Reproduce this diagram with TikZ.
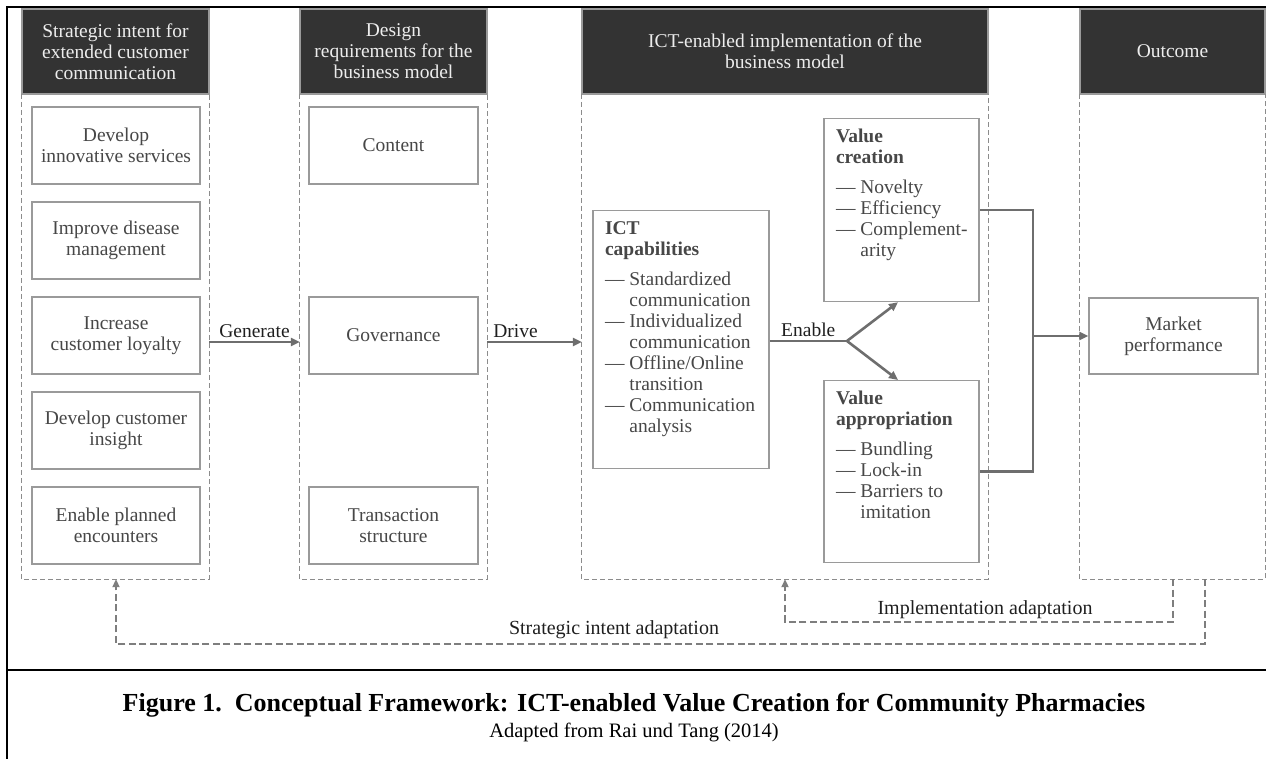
\documentclass[tikz,border=0pt]{standalone}
\usepackage{fontspec}
\setmainfont{Liberation Serif}
\usetikzlibrary{positioning,arrows.meta}
\definecolor{headfill}{HTML}{333333}
\definecolor{boxline}{HTML}{9A9A9A}
\definecolor{boxtext}{HTML}{474747}
\definecolor{flowgray}{HTML}{6E6E6E}
\definecolor{dashgray}{HTML}{8C8C8C}
\newcommand{\boxfont}{\fontsize{19.5}{21}\selectfont}
\tikzset{
  >={Triangle[length=9pt,width=8pt]},
  head/.style={draw=boxline, line width=1.2pt, fill=headfill, text=white!93!black,
    align=center, minimum height=85pt, font=\boxfont},
  column/.style={minimum height=485pt},
  item/.style={draw=boxline, line width=1.2pt, fill=white, text=boxtext,
    align=center, minimum height=77pt, font=\boxfont},
  capbox/.style={draw=boxline, line width=1.2pt, text=boxtext, anchor=north,
    inner xsep=10pt, inner ysep=0pt, font=\boxfont},
  flow/.style={draw=flowgray, line width=2.6pt, ->},
  fwire/.style={draw=flowgray, line width=2.6pt},
  colside/.style={draw=dashgray, line width=1.2pt, dash pattern=on 5pt off 3pt},
  feedback/.style={draw=dashgray!90!black, line width=2pt, dash pattern=on 7pt off 3.5pt,
    >={Triangle[length=8pt,width=7pt]}},
  tag/.style={font=\boxfont, text=black!88},
  frame/.style={line width=2.4pt, black}
}

\begin{document}
\begin{tikzpicture}[x=1pt,y=-1pt]
  \useasboundingbox (0,0) rectangle (1266,759);
  % frame
  \draw[frame] (7,759) -- (7,7) -- (1266,7);
  \draw[frame] (7,670) -- (1266,670);

  % column headers
  \node[head, minimum width=187pt] (hA) at (115.5,51.5) {Strategic intent for\\extended customer\\communication};
  \node[head, minimum width=187pt] (hB) at (393.5,51.5) {Design\\requirements for the\\business model};
  \node[head, minimum width=406pt] (hC) at (785,51.5) {ICT-enabled implementation of the\\business model};
  \node[head, minimum width=185pt] (hD) at (1172.5,51.5) {Outcome};

  % dashed columns
  \node[column, minimum width=187pt] (colA) at (115.5,336.5) {};
  \node[column, minimum width=187pt] (colB) at (393.5,336.5) {};
  \node[column, minimum width=406pt] (colC) at (785,336.5) {};
  \node[column, minimum width=185pt] (colD) at (1172.5,336.5) {};
  \foreach \c in {colA,colB,colC,colD}
    \draw[colside] (\c.north west) |- (\c.south east) -- (\c.north east);

  % strategic intent
  \node[item, minimum width=168pt] (dev) at (116,145.5) {Develop\\innovative services};
  \node[item, minimum width=168pt] (dis) at (116,240.5) {Improve disease\\management};
  \node[item, minimum width=168pt] (loy) at (116,335.5) {Increase\\customer loyalty};
  \node[item, minimum width=168pt] (ins) at (116,430.5) {Develop customer\\insight};
  \node[item, minimum width=168pt] (enc) at (116,525.5) {Enable planned\\encounters};

  % design requirements
  \node[item, minimum width=169pt] (cont) at (393.5,145.5) {Content};
  \node[item, minimum width=169pt] (gov) at (393.5,335.5) {Governance};
  \node[item, minimum width=169pt] (trans) at (393.5,525.5) {Transaction\\structure};

  % implementation
  \node[capbox, minimum width=176pt] (ict) at (681,210) {\begin{minipage}[t][258pt][t]{156pt}\raggedright
    \vspace*{9pt}\strut\hspace*{2pt}\textbf{ICT}\\
    \hspace*{2pt}\textbf{capabilities}\\[9.5pt]
    \hspace*{2pt}\textemdash{} Standardized\\
    \hspace*{2pt}\phantom{\textemdash{} }communication\\
    \hspace*{2pt}\textemdash{} Individualized\\
    \hspace*{2pt}\phantom{\textemdash{} }communication\\
    \hspace*{2pt}\textemdash{} Offline/Online\\
    \hspace*{2pt}\phantom{\textemdash{} }transition\\
    \hspace*{2pt}\textemdash{} Communication\\
    \hspace*{2pt}\phantom{\textemdash{} }analysis\end{minipage}};
  \node[capbox, minimum width=155pt] (vc) at (901.5,118) {\begin{minipage}[t][183pt][t]{135pt}\raggedright
    \vspace*{9pt}\strut\hspace*{2pt}\textbf{Value}\\
    \hspace*{2pt}\textbf{creation}\\[9.5pt]
    \hspace*{2pt}\textemdash{} Novelty\\
    \hspace*{2pt}\textemdash{} Efficiency\\
    \hspace*{2pt}\mbox{\textemdash{} Complement-}\\
    \hspace*{2pt}\phantom{\textemdash{} }arity\end{minipage}};
  \node[capbox, minimum width=155pt] (va) at (901.5,380) {\begin{minipage}[t][182pt][t]{135pt}\raggedright
    \vspace*{9pt}\strut\hspace*{2pt}\textbf{Value}\\
    \hspace*{2pt}\textbf{appropriation}\\[9.5pt]
    \hspace*{2pt}\textemdash{} Bundling\\
    \hspace*{2pt}\textemdash{} Lock-in\\
    \hspace*{2pt}\textemdash{} Barriers to\\
    \hspace*{2pt}\phantom{\textemdash{} }imitation\end{minipage}};

  % outcome
  \node[item, minimum width=169pt, minimum height=76pt] (mp) at (1173.5,336) {Market\\performance};

  % main flow
  \coordinate (lvl) at (0,342);
  \coordinate (fork) at (847,341);
  \coordinate (join) at (1033,336);
  \draw[flow] (colA.east |- lvl) -- node[tag, above] {Generate} (colB.west |- lvl);
  \draw[flow] (colB.east |- lvl) -- node[tag, above, pos=0.3] {Drive} (colC.west |- lvl);
  \draw[fwire] (ict.east |- fork) -- node[tag, above] {Enable} (fork);
  \draw[flow] (fork) -- ([xshift=-3.5pt]vc.south);
  \draw[flow] (fork) -- ([xshift=-3.5pt]va.north);
  \draw[fwire] (vc.east) -| (join) |- (va.east);
  \draw[flow] (join) -- (mp.west);

  % feedback loops
  \coordinate (implR) at (1173,622);
  \coordinate (implL) at (785,622);
  \coordinate (stratR) at (1205,644);
  \coordinate (stratL) at (116,644);
  \draw[feedback, ->] (colD.south -| implR) |- (implL) -- (colC.south -| implL);
  \draw[feedback, ->] (colD.south -| stratR) |- (stratL) -- (colA.south -| stratL);
  \node[tag, anchor=base, font=\fontsize{20}{22}\selectfont] (implLbl) at (985,614) {Implementation adaptation};
  \node[tag, anchor=base, font=\fontsize{20}{22}\selectfont] (stratLbl) at (614,634) {Strategic intent adaptation};

  % caption
  \node[font=\fontsize{26}{28}\selectfont\bfseries] (cap) at (634,705) {Figure 1.\ \ Conceptual Framework: ICT-enabled Value Creation for Community Pharmacies};
  \node[font=\fontsize{20.5}{24}\selectfont] (src) at (634,732) {Adapted from Rai und Tang (2014)};
\end{tikzpicture}
\end{document}
